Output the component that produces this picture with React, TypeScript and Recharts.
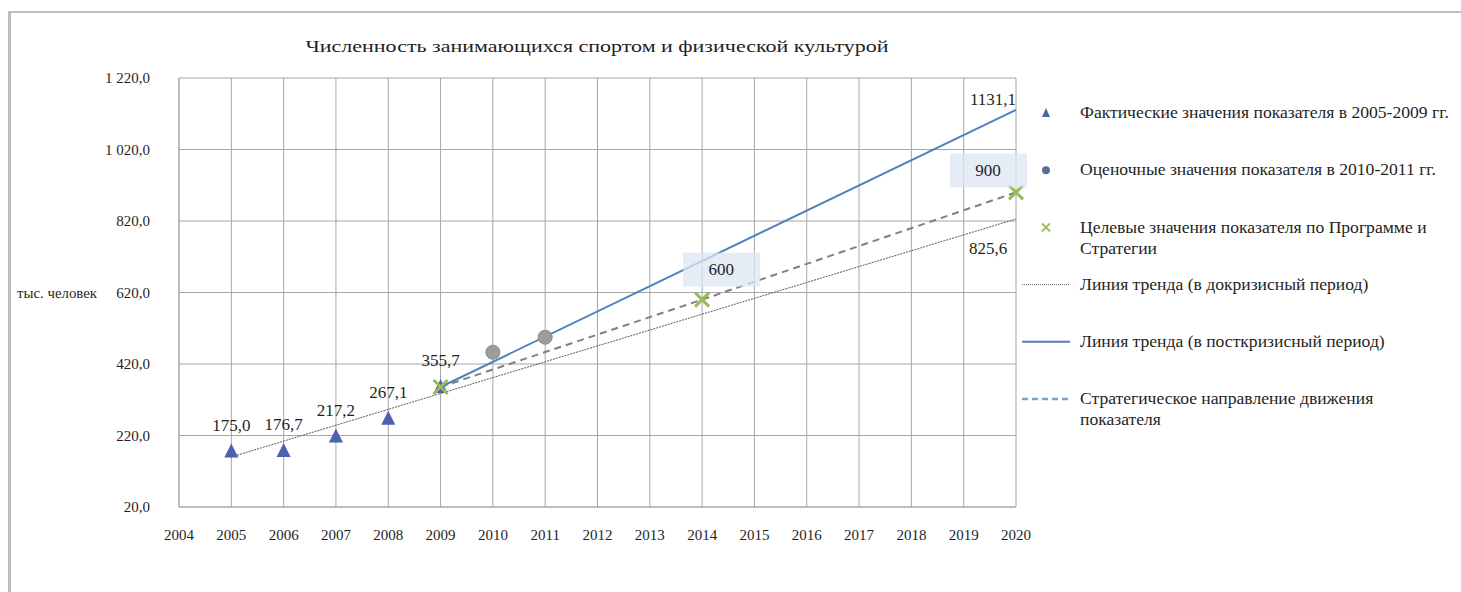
import React from "react"
import { ComposedChart, Line, XAxis, YAxis, CartesianGrid, LabelList } from "recharts"

const years = [2004, 2005, 2006, 2007, 2008, 2009, 2010, 2011, 2012, 2013, 2014, 2015, 2016, 2017, 2018, 2019, 2020]
const yTicks = [20, 220, 420, 620, 820, 1020, 1220]

// фактические значения 2005-2009
const factYears = [2005, 2006, 2007, 2008, 2009]
const factValues = [175.0, 176.7, 217.2, 267.1, 355.7]
// оценочные 2010-2011
const estYears = [2010, 2011]
const estValues = [453, 495]
// целевые по Программе и Стратегии
const targetYears = [2009, 2014, 2020]
const targetValues = [355.7, 600, 900]
// линии тренда
const preTrendYears = [2005, 2020]
const preTrendValues = [160, 825.6]
const postTrendYears = [2009, 2020]
const postTrendValues = [355.7, 1131.1]
const stratYears = [2009, 2014, 2020]
const stratValues = [355.7, 600, 900]

const pick = (ys: number[], vs: number[], y: number) => {
  const i = ys.indexOf(y)
  return i >= 0 ? vs[i] : null
}

const data = years.map((y) => ({
  year: y,
  fact: pick(factYears, factValues, y),
  est: pick(estYears, estValues, y),
  target: pick(targetYears, targetValues, y),
  pre: pick(preTrendYears, preTrendValues, y),
  post: pick(postTrendYears, postTrendValues, y),
  strat: pick(stratYears, stratValues, y),
}))

const FONT = "Liberation Serif, Times New Roman, serif"
const TEXT = "#1f1f1f"
const BLUE = "#4F81BD"
const TRI = "#4A62B0"
const GRAY_DOT = "#9C9C9C"
const GREEN = "#9BBB59"

const fmtTick = (v: number) => {
  const [int, dec] = v.toFixed(1).split(".")
  return `${int.replace(/\B(?=(\d{3})+(?!\d))/g, " ")},${dec}`
}
const fmtVal = (v: number) => v.toFixed(1).replace(".", ",")

const Triangle = (p: any) => {
  const { cx, cy, value } = p
  if (value == null || cx == null) return null
  return <polygon points={`${cx},${cy - 8} ${cx - 7},${cy + 6} ${cx + 7},${cy + 6}`} fill={TRI} />
}

const Circle = (p: any) => {
  const { cx, cy, value } = p
  if (value == null || cx == null) return null
  return <circle cx={cx} cy={cy} r={7} fill={GRAY_DOT} stroke="#8a8a8a" strokeWidth={1} />
}

const Cross = (p: any) => {
  const { cx, cy, value } = p
  if (value == null || cx == null) return null
  return (
    <g stroke={GREEN} strokeWidth={3}>
      <line x1={cx - 7} y1={cy - 7} x2={cx + 7} y2={cy + 7} />
      <line x1={cx - 7} y1={cy + 7} x2={cx + 7} y2={cy - 7} />
    </g>
  )
}

const FactLabel = (p: any) => {
  const { x, y, value } = p
  if (value == null) return null
  return (
    <text x={x} y={y - 26} textAnchor="middle" dominantBaseline="central" fontFamily={FONT} fontSize={17} fill={TEXT}>
      {fmtVal(value)}
    </text>
  )
}

const TargetLabel = (p: any) => {
  const { x, y, value, index } = p
  const yr = data[index]?.year
  if (value == null || yr === targetYears[0]) return null
  const last = yr === targetYears[targetYears.length - 1]
  const lx = last ? x - 28 : x + 19
  const ly = last ? y - 22 : y - 30
  return (
    <g>
      <rect x={lx - 38} y={ly - 17} width={77} height={34} fill="#DCE6F2" opacity={0.75} />
      <text x={lx} y={ly} textAnchor="middle" dominantBaseline="central" fontFamily={FONT} fontSize={17} fill={TEXT}>
        {value}
      </text>
    </g>
  )
}

const EndLabel = (dx: number, dy: number) => (p: any) => {
  const { x, y, value, index } = p
  if (value == null || index !== years.length - 1) return null
  return (
    <text x={x + dx} y={y + dy} textAnchor="middle" dominantBaseline="central" fontFamily={FONT} fontSize={17} fill={TEXT}>
      {fmtVal(value)}
    </text>
  )
}

const legendItems = [
  { icon: "tri", lines: ["Фактические значения показателя в 2005-2009 гг."] },
  { icon: "circle", lines: ["Оценочные значения показателя в 2010-2011 гг."] },
  { icon: "cross", lines: ["Целевые значения показателя по Программе и", "Стратегии"] },
  { icon: "dotted", lines: ["Линия тренда (в докризисный период)"] },
  { icon: "solid", lines: ["Линия тренда (в посткризисный период)"] },
  { icon: "dashed", lines: ["Стратегическое направление движения", "показателя"] },
]

const LegendIcon = ({ kind, cy }: { kind: string; cy: number }) => {
  const cx = 1046
  switch (kind) {
    case "tri":
      return <polygon points={`${cx},${cy - 5} ${cx - 4},${cy + 4} ${cx + 4},${cy + 4}`} fill={TRI} />
    case "circle":
      return <circle cx={cx} cy={cy} r={4} fill="#5A6E9A" />
    case "cross":
      return (
        <g stroke={GREEN} strokeWidth={2}>
          <line x1={cx - 4} y1={cy - 4} x2={cx + 4} y2={cy + 4} />
          <line x1={cx - 4} y1={cy + 4} x2={cx + 4} y2={cy - 4} />
        </g>
      )
    case "dotted":
      return <line x1={1022} x2={1070} y1={cy} y2={cy} stroke="#666" strokeDasharray="1 1" strokeWidth={1} />
    case "solid":
      return <line x1={1022} x2={1070} y1={cy} y2={cy} stroke={BLUE} strokeWidth={2} />
    default:
      return <line x1={1022} x2={1070} y1={cy} y2={cy} stroke="#7F9FCF" strokeDasharray="6 4" strokeWidth={2.5} />
  }
}

export default function App() {
  return (
    <div style={{ position: "absolute", left: 0, top: 0, width: 1461, height: 592, background: "#fff", overflow: "hidden" }}>
      <div style={{ position: "absolute", left: 8, top: 11, right: -10, bottom: -10, borderTop: "2px solid #BDBDBD", borderLeft: "3px solid #BDBDBD" }} />
      <ComposedChart width={1461} height={592} data={data} margin={{ top: 78, right: 445, bottom: 55, left: 119 }}>
        <CartesianGrid stroke="#A6A6A6" />
        <XAxis
          dataKey="year"
          type="number"
          domain={[2004, 2020]}
          ticks={years}
          interval={0}
          tickLine={false}
          axisLine={{ stroke: "#A6A6A6" }}
          tickMargin={16}
          tick={{ fontFamily: FONT, fontSize: 15, fill: TEXT }}
          allowDecimals={false}
        />
        <YAxis
          type="number"
          domain={[20, 1220]}
          ticks={yTicks}
          interval={0}
          width={60}
          tickLine={false}
          axisLine={{ stroke: "#A6A6A6" }}
          tickMargin={23}
          tickFormatter={(v: number) => fmtTick(v)}
          tick={{ fontFamily: FONT, fontSize: 15, fill: TEXT }}
        />
        <Line dataKey="pre" connectNulls stroke="#595959" strokeWidth={1} strokeDasharray="2 1" dot={false} activeDot={false} isAnimationActive={false}>
          <LabelList dataKey="pre" content={EndLabel(-28, 30)} />
        </Line>
        <Line dataKey="strat" connectNulls stroke="#808080" strokeWidth={2} strokeDasharray="7 5" dot={false} activeDot={false} isAnimationActive={false} />
        <Line dataKey="post" connectNulls stroke={BLUE} strokeWidth={2} dot={false} activeDot={false} isAnimationActive={false}>
          <LabelList dataKey="post" content={EndLabel(-23, -10)} />
        </Line>
        <Line dataKey="est" stroke="none" dot={<Circle />} activeDot={false} isAnimationActive={false} />
        <Line dataKey="fact" stroke="none" dot={<Triangle />} activeDot={false} isAnimationActive={false}>
          <LabelList dataKey="fact" content={FactLabel} />
        </Line>
        <Line dataKey="target" stroke="none" dot={<Cross />} activeDot={false} isAnimationActive={false}>
          <LabelList dataKey="target" content={TargetLabel} />
        </Line>
      </ComposedChart>
      <svg width={1461} height={592} style={{ position: "absolute", left: 0, top: 0, pointerEvents: "none" }}>
        <text x={597} y={46} textAnchor="middle" dominantBaseline="central" fontFamily={FONT} fontSize={17} fill={TEXT} textLength={583} lengthAdjust="spacingAndGlyphs">
          Численность занимающихся спортом и физической культурой
        </text>
        <text x={17} y={293} dominantBaseline="central" fontFamily={FONT} fontSize={14} fill={TEXT} textLength={80} lengthAdjust="spacingAndGlyphs">
          тыс. человек
        </text>
        {legendItems.map((it, i) => {
          const cy = 113 + i * 57.2
          return (
            <g key={i}>
              <LegendIcon kind={it.icon} cy={cy} />
              {it.lines.map((ln, j) => (
                <g key={j} transform={`translate(1080, ${cy + j * 21}) scale(1.1, 1)`}>
                  <text x={0} y={0} dominantBaseline="central" fontFamily={FONT} fontSize={16} fill={TEXT}>
                    {ln}
                  </text>
                </g>
              ))}
            </g>
          )
        })}
      </svg>
    </div>
  )
}
